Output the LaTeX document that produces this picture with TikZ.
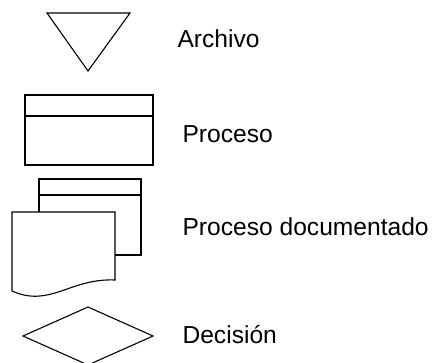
\documentclass[tikz,border=0pt]{standalone}
\usepackage{fontspec}
\setmainfont{Liberation Sans}
\usepackage{tikz}
\usetikzlibrary{calc, positioning}

\begin{document}
\begin{tikzpicture}[x=1pt, y=-1pt, line width=1.1pt, line join=miter,
    etiqueta/.style={anchor=base west, inner sep=0pt, font=\fontsize{24.6}{29}\selectfont}]

    % =================================================================
    % 0. MARCO DE LA FIGURA
    % =================================================================
    \useasboundingbox (0,0) rectangle (434,362);

    % =================================================================
    % 1. ARCHIVO (TRIANGULO INVERTIDO)
    % =================================================================
    \coordinate (A1) at (47,13);
    \coordinate (A2) at (130,13);
    \coordinate (A3) at (88,71);
    \draw (A1) -- (A2) -- (A3) -- cycle;

    % =================================================================
    % 2. PROCESO (RECTANGULO CON FRANJA SUPERIOR)
    % =================================================================
    \coordinate (P1) at (25,95);
    \coordinate (P2) at (153,165);
    \draw (P1) rectangle (P2);
    \draw (25,116) -- (153,116);

    % =================================================================
    % 3. PROCESO DOCUMENTADO (RECTANGULO + DOCUMENTO DELANTE)
    % =================================================================
    % Rectangulo de atras
    \draw (39,179) rectangle (141,255);
    \draw (39,195) -- (141,195);

    % Documento de delante, relleno blanco, borde inferior ondulado
    \draw[fill=white] (12,212) -- (115,212) -- (115,280)
        .. controls (70,278) and (50,308) .. (12,291) -- cycle;

    % =================================================================
    % 4. DECISION (ROMBO)
    % =================================================================
    \coordinate (D1) at (88,307);
    \coordinate (D2) at (153,336);
    \coordinate (D3) at (88,365);
    \coordinate (D4) at (23,336);
    \draw (D1) -- (D2) -- (D3) -- (D4) -- cycle;

    % =================================================================
    % 5. ETIQUETAS
    % =================================================================
    \node[etiqueta] (tArchivo) at (177,47) {Archivo};
    \node[etiqueta] (tProceso) at (182,142) {Proceso};
    \node[etiqueta] (tDoc) at (182,235) {Proceso documentado};
    \node[etiqueta] (tDecision) at (182,343) {Decisión};

\end{tikzpicture}
\end{document}
